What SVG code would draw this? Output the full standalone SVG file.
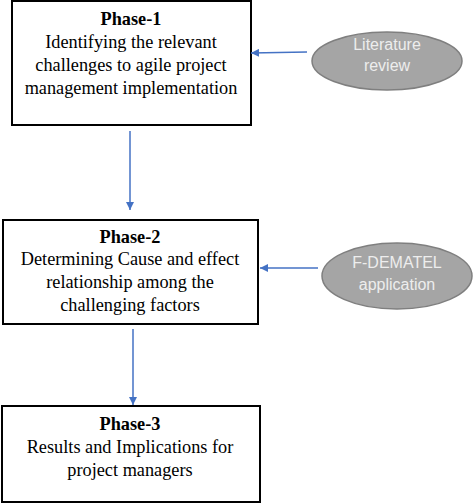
<svg xmlns="http://www.w3.org/2000/svg" width="474" height="503" viewBox="0 0 474 503">
<defs>
<style>
.box{fill:#fff;stroke:#000;stroke-width:2}
.t{font-family:"Liberation Serif","Times New Roman",serif;font-size:18.3px;fill:#000;text-anchor:middle}
.b{font-weight:bold}
.ell{fill:#a5a5a5;stroke:#7f7f7f;stroke-width:1.5}
.et{font-family:"Liberation Sans",Arial,sans-serif;font-size:16px;fill:#ededed;text-anchor:middle}
.c{stroke:#4472c4;stroke-width:1.5;fill:none;marker-end:url(#ah)}
</style>
<marker id="ah" viewBox="0 0 10 10" refX="10" refY="5" markerWidth="8" markerHeight="8" markerUnits="userSpaceOnUse" orient="auto">
<path d="M0,0 L10,5 L0,10 z" fill="#4472c4"/>
</marker>
</defs>
<rect width="474" height="503" fill="#fff"/>
<g id="phase1">
<rect class="box" x="12" y="1" width="239" height="124"/>
<text class="t b" x="131" y="25">Phase-1</text>
<text class="t" x="131" y="48">Identifying the relevant</text>
<text class="t" x="131" y="71">challenges to agile project</text>
<text class="t" x="131" y="94">management implementation</text>
</g>
<g id="literature">
<ellipse class="ell" cx="387" cy="61" rx="75" ry="29"/>
<text class="et" x="387" y="50">Literature</text>
<text class="et" x="387" y="71">review</text>
</g>
<g id="phase2">
<rect class="box" x="3" y="220" width="255" height="104"/>
<text class="t b" x="130" y="243">Phase-2</text>
<text class="t" x="130" y="265">Determining Cause and effect</text>
<text class="t" x="130" y="288">relationship among the</text>
<text class="t" x="130" y="311">challenging factors</text>
</g>
<g id="fdematel">
<ellipse class="ell" cx="397" cy="276" rx="75" ry="33"/>
<text class="et" x="397" y="268">F-DEMATEL</text>
<text class="et" x="397" y="290">application</text>
</g>
<g id="phase3">
<rect class="box" x="2" y="406" width="258" height="96"/>
<text class="t b" x="130" y="430">Phase-3</text>
<text class="t" x="130" y="453">Results and Implications for</text>
<text class="t" x="130" y="476">project managers</text>
</g>
<g id="connectors">
<path class="c" d="M307,52 L251,53"/>
<path class="c" d="M130,131 L130,210"/>
<path class="c" d="M318,268 L260,268"/>
<path class="c" d="M133,329 L133,405"/>
</g>
</svg>
